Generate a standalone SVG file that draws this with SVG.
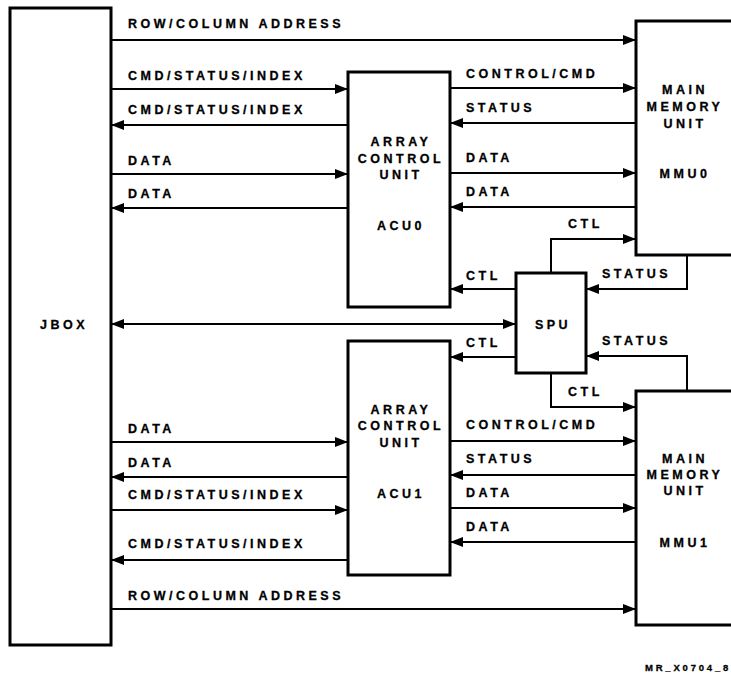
<svg xmlns="http://www.w3.org/2000/svg" width="731" height="674" viewBox="0 0 731 674">
<defs>
<marker id="ah" markerUnits="userSpaceOnUse" markerWidth="14" markerHeight="11" refX="13" refY="5" orient="auto-start-reverse" viewBox="0 0 14 11">
<path d="M0,0 L13,5 L0,10 Z" fill="#000"/>
</marker>
</defs>
<style>
.box{fill:#fff;stroke:#000;stroke-width:3}
.ln{fill:none;stroke:#000;stroke-width:2}
.ar{fill:none;stroke:#000;stroke-width:2;marker-end:url(#ah)}
text{font-family:"Liberation Sans",Arial,Helvetica,sans-serif;font-weight:bold;font-size:12.5px;letter-spacing:3.5px;fill:#000;stroke:#000;stroke-width:0.3}
.c{text-anchor:middle}
.sm{font-size:9.5px;letter-spacing:2.8px}
</style>
<rect width="731" height="674" fill="#fff"/>

<g id="connectors">
<line class="ar" x1="111" y1="40" x2="636" y2="40"/>
<line class="ar" x1="111" y1="89" x2="348" y2="89"/>
<line class="ar" x1="348" y1="125" x2="111" y2="125"/>
<line class="ar" x1="111" y1="174" x2="348" y2="174"/>
<line class="ar" x1="348" y1="208" x2="111" y2="208"/>
<line class="ar" x1="450" y1="88" x2="636" y2="88"/>
<line class="ar" x1="636" y1="123" x2="450" y2="123"/>
<line class="ar" x1="450" y1="173" x2="636" y2="173"/>
<line class="ar" x1="636" y1="207" x2="450" y2="207"/>
<polyline class="ar" points="551,273 551,239 636,239"/>
<polyline class="ar" points="687,255 687,289 586,289"/>
<line class="ar" x1="516" y1="289" x2="450" y2="289"/>
<line class="ln" x1="111" y1="324" x2="516" y2="324" marker-start="url(#ah)" marker-end="url(#ah)"/>
<line class="ar" x1="516" y1="357" x2="450" y2="357"/>
<polyline class="ar" points="687,391 687,356 586,356"/>
<polyline class="ar" points="551,373 551,407 636,407"/>
<line class="ar" x1="111" y1="442" x2="348" y2="442"/>
<line class="ar" x1="348" y1="477" x2="111" y2="477"/>
<line class="ar" x1="111" y1="510" x2="348" y2="510"/>
<line class="ar" x1="348" y1="560" x2="111" y2="560"/>
<line class="ar" x1="450" y1="441" x2="636" y2="441"/>
<line class="ar" x1="636" y1="475" x2="450" y2="475"/>
<line class="ar" x1="450" y1="508" x2="636" y2="508"/>
<line class="ar" x1="636" y1="542" x2="450" y2="542"/>
<line class="ar" x1="111" y1="609" x2="636" y2="609"/>
</g>

<g id="labels">
<text x="128" y="28">ROW/COLUMN ADDRESS</text>
<text x="128" y="80">CMD/STATUS/INDEX</text>
<text x="128" y="114">CMD/STATUS/INDEX</text>
<text x="128" y="165">DATA</text>
<text x="128" y="198">DATA</text>
<text x="466" y="78">CONTROL/CMD</text>
<text x="466" y="112">STATUS</text>
<text x="466" y="162">DATA</text>
<text x="466" y="196">DATA</text>
<text x="568" y="228">CTL</text>
<text x="602" y="278">STATUS</text>
<text x="466" y="280">CTL</text>
<text x="466" y="347">CTL</text>
<text x="602" y="345">STATUS</text>
<text x="568" y="396">CTL</text>
<text x="128" y="433">DATA</text>
<text x="128" y="467">DATA</text>
<text x="128" y="499">CMD/STATUS/INDEX</text>
<text x="128" y="548">CMD/STATUS/INDEX</text>
<text x="466" y="429">CONTROL/CMD</text>
<text x="466" y="463">STATUS</text>
<text x="466" y="497">DATA</text>
<text x="466" y="531">DATA</text>
<text x="128" y="600">ROW/COLUMN ADDRESS</text>
<text class="sm" x="645" y="671">MR_X0704_8</text>
</g>

<g id="jbox">
<rect class="box" x="10" y="8" width="101" height="637"/>
<text class="c" x="64" y="329">JBOX</text>
</g>

<g id="acu0">
<rect class="box" x="348" y="72" width="102" height="235"/>
<text class="c" x="401" y="146">ARRAY</text>
<text class="c" x="401" y="163">CONTROL</text>
<text class="c" x="401" y="179">UNIT</text>
<text class="c" x="401" y="230">ACU0</text>
</g>

<g id="mmu0">
<rect class="box" x="636" y="21" width="120" height="234"/>
<text class="c" x="685" y="94">MAIN</text>
<text class="c" x="685" y="111">MEMORY</text>
<text class="c" x="685" y="128">UNIT</text>
<text class="c" x="685" y="178">MMU0</text>
</g>

<g id="spu">
<rect class="box" x="516" y="273" width="70" height="100"/>
<text class="c" x="553" y="329">SPU</text>
</g>

<g id="acu1">
<rect class="box" x="348" y="341" width="102" height="234"/>
<text class="c" x="401" y="414">ARRAY</text>
<text class="c" x="401" y="430">CONTROL</text>
<text class="c" x="401" y="447">UNIT</text>
<text class="c" x="401" y="498">ACU1</text>
</g>

<g id="mmu1">
<rect class="box" x="636" y="391" width="120" height="234"/>
<text class="c" x="685" y="463">MAIN</text>
<text class="c" x="685" y="479">MEMORY</text>
<text class="c" x="685" y="495">UNIT</text>
<text class="c" x="685" y="547">MMU1</text>
</g>
</svg>
